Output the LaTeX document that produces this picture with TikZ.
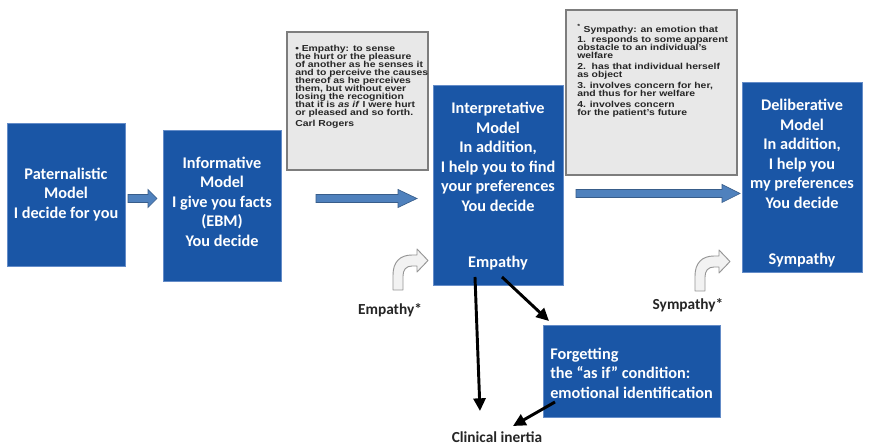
\documentclass[tikz,border=0pt]{standalone}
\usepackage{fontspec}
\setmainfont{Carlito}
\newfontfamily\notefont[FakeStretch=1.2]{Liberation Sans}
\usetikzlibrary{arrows.meta,calc}

\definecolor{boxblue}{RGB}{26,86,166}
\definecolor{boxedge}{RGB}{100,140,200}
\definecolor{notefill}{RGB}{232,232,232}
\definecolor{noteedge}{RGB}{125,125,125}
\definecolor{flowfill}{RGB}{79,129,189}
\definecolor{flowedge}{RGB}{56,93,138}
\definecolor{bentfill}{RGB}{242,242,242}
\definecolor{bentedge}{RGB}{150,150,150}

\newlength\pu
\setlength\pu{0.75pt}

% small tightly set type for the quotation boxes
\newcommand\notestyle{\notefont\bfseries\fontsize{6.5}{6.05}\selectfont
  \lineskiplimit=-10pt\relax}

% light blue block arrow: start x, head base x, tip x, centre y
\newcommand\flowarrow[4]{%
  \draw[flowarr] (#1,#4-4) -- (#2,#4-4) -- (#2,#4-9) -- (#3,#4)
    -- (#2,#4+9) -- (#2,#4+4) -- (#1,#4+4) -- cycle;}

\begin{document}
\begin{tikzpicture}[x=0.75pt,y=-0.75pt,
  modelbox/.style={draw=boxedge, line width=0.7pt, fill=boxblue, inner sep=0pt},
  modeltext/.style={text=white, font=\bfseries\fontsize{12.2}{14.6}\selectfont,
    align=center, inner sep=0pt},
  notebox/.style={draw=noteedge, fill=notefill, line width=0.8pt, inner sep=0pt},
  notetext/.style={text=black!85, font=\notestyle,
    align=left, inner sep=0pt, anchor=north west},
  flowarr/.style={fill=flowfill, draw=flowedge, line width=0.5pt},
  bentstyle/.style={fill=bentfill, draw=bentedge, line width=0.7pt, line join=round},
  plainlabel/.style={text=black!85, font=\bfseries\fontsize{11.5}{13.8}\selectfont, inner sep=0pt},
  causal/.style={draw=black, line width=2.2pt,
    -{Triangle[length=9.5pt,width=9pt]}},
  bentarrow/.pic={
    \draw[bentstyle] (0,0) -- (0,-15) .. controls (0,-28) and (7,-35) .. (19,-35)
      -- (24,-35) -- (24,-41) -- (35,-29.5) -- (24,-18) -- (24,-24) -- (19,-24)
      .. controls (13,-24) and (10,-20) .. (10,-14) -- (10,0) -- cycle;
  }
]
\useasboundingbox (0,0) rectangle (869,445);
\fill[white] (0,0) rectangle (869,445);

% model boxes
\node[modelbox, minimum width=118\pu, minimum height=143\pu] (pat) at (66,194.5) {};
\node[modeltext] (pattxt) at (66,194.5) {Paternalistic\\Model\\I decide for you};

\node[modelbox, minimum width=118\pu, minimum height=151\pu] (inf) at (222,205.5) {};
\node[modeltext] (inftxt) at (222,201.5) {Informative\\Model\\I give you facts\\(EBM)\\You decide};

\node[modelbox, minimum width=130\pu, minimum height=200\pu] (int) at (498,185) {};
\node[modeltext] (inttxt) at (498,157) {Interpretative\\Model\\In addition,\\I help you to find\\your preferences\\You decide};
\node[modeltext] (intemp) at (498,263) {Empathy};

\node[modelbox, minimum width=120\pu, minimum height=190\pu] (del) at (802,177) {};
\node[modeltext] (deltxt) at (802,154) {Deliberative\\Model\\In addition,\\I help you\\my preferences\\You decide};
\node[modeltext] (delsym) at (802,260) {Sympathy};

\node[modelbox, minimum width=177\pu, minimum height=92\pu] (fgt) at (631.5,371) {};
\node[modeltext, align=left, anchor=west] (fgttxt) at (550,373) {Forgetting\\the “as if” condition:\\emotional identification};

% quotation boxes
\node[notebox, minimum width=141\pu, minimum height=138\pu] (rogers) at (357.5,101) {};
\node[notetext] (rogerstxt) at (295,44.5) {• Empathy: to sense\\the hurt or the pleasure\\of another as he senses it\\and to perceive the causes\\thereof as he perceives\\them, but without ever\\losing the recognition\\that it is \textit{as if} I were hurt\\or pleased and so forth.\\[2pt]Carl Rogers};

\node[notebox, minimum width=171\pu, minimum height=165\pu] (symdef) at (651.5,92.5) {};
\node[notetext] (symdeftxt) at (577,24.5) {\textsuperscript{*} Sympathy: an emotion that\\[1.6pt]1.\ \ responds to some apparent\\obstacle to an individual’s\\welfare\\[2.2pt]2.\ \ has that individual herself\\as object\\[2.2pt]3. involves concern for her,\\and thus for her welfare\\[2.2pt]4. involves concern\\for the patient’s future};

% block arrows between the models
\flowarrow{128}{148}{157}{198.5}
\flowarrow{316}{398}{417}{198.5}
\flowarrow{576}{722}{740}{193.5}

% bent arrows with their labels
\pic (bentemp) at (393,290) {bentarrow};
\pic (bentsym) at (695,291) {bentarrow};
\node[plainlabel] (emplab) at (390,310) {Empathy*};
\node[plainlabel] (symlab) at (688,305) {Sympathy*};

% consequences
\node[plainlabel] (inertia) at (497,437) {Clinical inertia};
\coordinate (vstart) at (475,277);
\coordinate (vend) at (480,411);
\coordinate (dstart) at (502,277);
\coordinate (dend) at (549,321);
\coordinate (fstart) at (555,402);
\coordinate (fend) at (513,426);
\draw[causal] (vstart) -- (vend);
\draw[causal] (dstart) -- (dend);
\draw[causal] (fstart) -- (fend);
\end{tikzpicture}
\end{document}
